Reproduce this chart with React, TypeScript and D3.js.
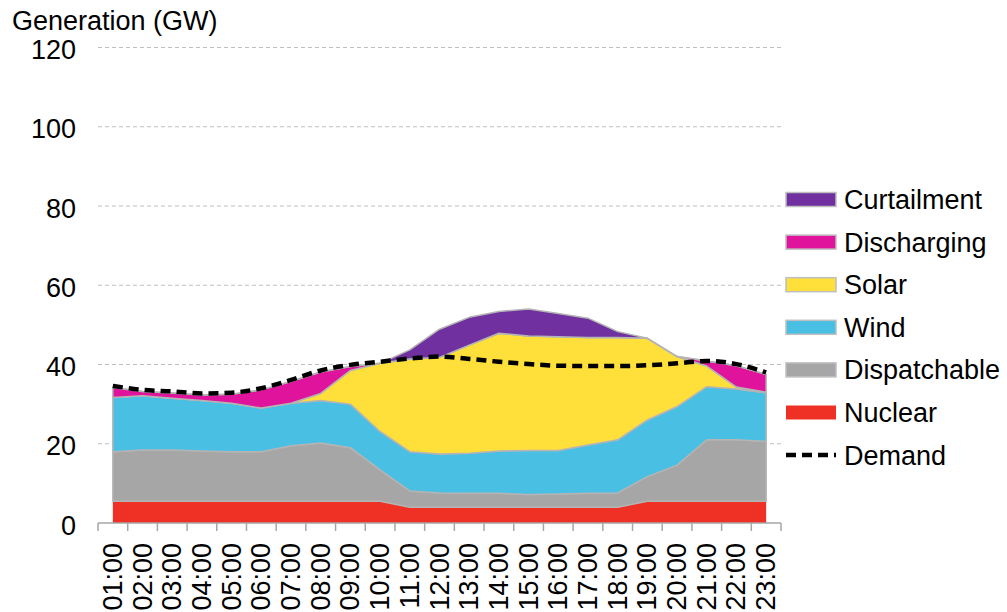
import * as d3 from "d3";

const hours = [
  "01:00", "02:00", "03:00", "04:00", "05:00", "06:00", "07:00", "08:00",
  "09:00", "10:00", "11:00", "12:00", "13:00", "14:00", "15:00", "16:00",
  "17:00", "18:00", "19:00", "20:00", "21:00", "22:00", "23:00",
];

// GW per hour
const nuclear = [5.5, 5.5, 5.5, 5.5, 5.5, 5.5, 5.5, 5.5, 5.5, 5.5, 4, 4, 4, 4, 4, 4, 4, 4, 5.5, 5.5, 5.5, 5.5, 5.5];
const dispatchable = [12.5, 12.9, 12.9, 12.7, 12.5, 12.5, 14.0, 14.7, 13.5, 7.9, 4.1, 3.6, 3.5, 3.5, 3.2, 3.3, 3.5, 3.6, 6.2, 9.1, 15.5, 15.5, 15.1];
const wind = [13.7, 13.7, 13.1, 12.7, 12.2, 11.0, 10.7, 10.7, 11.0, 9.7, 9.9, 9.8, 10.1, 10.7, 11.1, 11.0, 12.2, 13.4, 14.3, 14.8, 13.4, 12.8, 12.3];
const solar = [0, 0, 0, 0, 0, 0, 0, 1.8, 8.5, 17.2, 23.4, 24.4, 27.3, 29.7, 28.9, 28.7, 27.1, 25.8, 20.6, 12.6, 5.2, 0.5, 0.1];
const discharging = [2.5, 1.1, 1.3, 1.4, 2.3, 4.6, 5.5, 5.4, 1.0, 0, 0, 0, 0, 0, 0, 0, 0, 0, 0, 0, 1.3, 5.4, 4.5];
const curtailment = [0, 0, 0, 0, 0, 0, 0, 0, 0, 0, 2.3, 7.1, 7.0, 5.5, 6.8, 5.9, 4.9, 1.5, 0, 0, 0, 0, 0];
const demand = [34.6, 33.6, 33.2, 32.7, 32.9, 34.0, 36.1, 38.5, 39.9, 40.7, 41.5, 42.0, 41.4, 40.7, 40.1, 39.7, 39.6, 39.6, 39.8, 40.3, 40.9, 40.1, 38.0];

const yTicks = [0, 20, 40, 60, 80, 100, 120];

const keys = ["Nuclear", "Dispatchable", "Wind", "Solar", "Discharging", "Curtailment"];
const colors: Record<string, string> = {
  Nuclear: "#EE3124",
  Dispatchable: "#A6A6A6",
  Wind: "#49BFE4",
  Solar: "#FFE03A",
  Discharging: "#E0139C",
  Curtailment: "#7030A0",
};
const legendOrder = ["Curtailment", "Discharging", "Solar", "Wind", "Dispatchable", "Nuclear"];

const width = 1007, height = 612;
const left = 98, right = 781, top = 47.5, bottom = 523;
const font = "'Liberation Sans', Arial, sans-serif";

export default function App() {
  const rows = hours.map((h, i) => ({
    hour: h,
    Nuclear: nuclear[i],
    Dispatchable: dispatchable[i],
    Wind: wind[i],
    Solar: solar[i],
    Discharging: discharging[i],
    Curtailment: curtailment[i],
  }));
  const stacked = d3.stack<any>().keys(keys)(rows);

  const x = d3.scaleBand(hours, [left, right]);
  const cx = (h: string) => x(h)! + x.bandwidth() / 2;
  const y = d3.scaleLinear([0, 120], [bottom, top]);

  const area = d3.area<any>()
    .x(d => cx(d.data.hour))
    .y0(d => y(d[0]))
    .y1(d => y(d[1]));

  const demandLine = d3.line<number>()
    .x((_, i) => cx(hours[i]))
    .y(d => y(d))
    .curve(d3.curveMonotoneX);

  const tickXs = hours.map(h => x(h)!).concat([right]);

  return (
    <svg width={width} height={height} style={{ position: "absolute", left: 0, top: 0 }} fontFamily={font}>
      <rect width={width} height={height} fill="white" />
      <text x={12} y={30} fontSize={27}>Generation (GW)</text>

      {yTicks.filter(t => t > 0).map(t => (
        <line key={t} x1={left} x2={right} y1={y(t)} y2={y(t)} stroke="#BFBFBF" strokeDasharray="4 3" />
      ))}
      {yTicks.map(t => (
        <text key={t} x={76} y={y(t) + 11.5} fontSize={27} textAnchor="end">{t}</text>
      ))}

      {stacked.map(s => (
        <path
          key={s.key}
          d={area(s)!}
          fill={colors[s.key]}
          stroke={s.key === "Nuclear" ? "none" : "#B4B4B4"}
          strokeWidth={1.5}
          strokeLinejoin="round"
        />
      ))}

      <path d={demandLine(demand)!} fill="none" stroke="black" strokeWidth={4.5} strokeDasharray="10 6" />

      <line x1={left} x2={right} y1={bottom} y2={bottom} stroke="#A6A6A6" strokeWidth={1.5} />
      {tickXs.map((tx, i) => (
        <line key={i} x1={tx} x2={tx} y1={bottom} y2={bottom + 8} stroke="#A6A6A6" strokeWidth={1.5} />
      ))}
      {hours.map(h => (
        <text
          key={h}
          transform={`translate(${cx(h)},${543}) rotate(-90)`}
          fontSize={27}
          textAnchor="end"
          dominantBaseline="central"
        >
          {h}
        </text>
      ))}

      {legendOrder.map((k, i) => {
        const cy = 199.5 + i * 42.6;
        return (
          <g key={k}>
            <rect
              x={786} y={cy - 7} width={50} height={14}
              fill={colors[k]}
              stroke={k === "Nuclear" ? "none" : "#BFBFBF"}
              strokeWidth={1.5}
            />
            <text x={844} y={cy + 9.5} fontSize={27}>{k}</text>
          </g>
        );
      })}
      <line x1={786} x2={836} y1={455} y2={455} stroke="black" strokeWidth={4.5} strokeDasharray="10 6" />
      <text x={844} y={455 + 9.5} fontSize={27}>Demand</text>
    </svg>
  );
}
